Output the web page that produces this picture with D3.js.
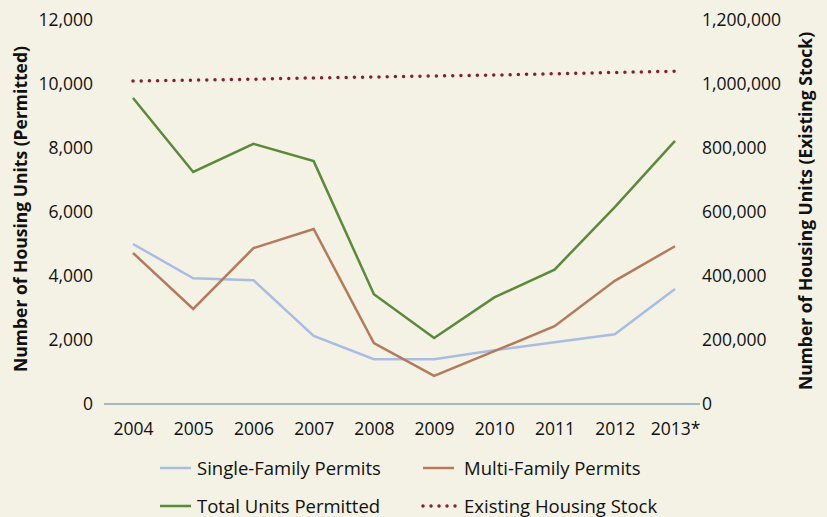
<!DOCTYPE html>
<html><head><meta charset="utf-8">
<script src="https://cdn.jsdelivr.net/npm/d3@7"></script>
<style>body{margin:0;background:#f4f2e4;} svg{display:block;font-family:"Open Sans","Noto Sans",sans-serif;}</style>
</head><body>
<svg id="c" width="827" height="517"></svg>
<script>
const years = ["2004","2005","2006","2007","2008","2009","2010","2011","2012","2013*"];
const singleFamily = [5000,3930,3870,2130,1400,1400,1680,1930,2180,3590];
const multiFamily  = [4720,2970,4870,5470,1900,880,1650,2430,3850,4930];
const totalUnits   = [9560,7250,8130,7590,3430,2060,3330,4200,6150,8220];
const housingStock = [1009000,1012000,1015000,1019000,1022000,1025000,1028000,1032000,1036000,1040000];
const leftTicks = [0,2000,4000,6000,8000,10000,12000];
const rightTicks = [0,200000,400000,600000,800000,1000000,1200000];

const svg = d3.select("#c");
svg.append("rect").attr("width",827).attr("height",517).attr("fill","#f4f2e4");
const x = d3.scalePoint().domain(years).range([133,675]);
const yL = d3.scaleLinear().domain([0,12000]).range([404,20]);
const yR = d3.scaleLinear().domain([0,1200000]).range([404,20]);
const fmt = d3.format(",");
const FS = 17.5;

const gl = svg.append("g").attr("transform","translate(93,0)")
  .call(d3.axisLeft(yL).tickValues(leftTicks).tickFormat(fmt).tickSize(0).tickPadding(0));
gl.select(".domain").remove();
gl.selectAll("text").attr("font-size",FS).attr("fill","#111").attr("font-family","'Open Sans',sans-serif");

const gr = svg.append("g").attr("transform","translate(702,0)")
  .call(d3.axisRight(yR).tickValues(rightTicks).tickFormat(fmt).tickSize(0).tickPadding(0));
gr.select(".domain").remove();
gr.selectAll("text").attr("font-size",FS).attr("fill","#111").attr("font-family","'Open Sans',sans-serif");

svg.append("line").attr("x1",104).attr("x2",700).attr("y1",yL(0)).attr("y2",yL(0))
  .attr("stroke","#8ea3b8").attr("stroke-width",1.5);

const gx = svg.append("g").attr("transform","translate(0,423)")
  .call(d3.axisBottom(x).tickSize(0).tickPadding(0));
gx.select(".domain").remove();
gx.selectAll("text").attr("font-size",FS).attr("fill","#111").attr("dy","0.7em").attr("font-family","'Open Sans',sans-serif");

svg.append("text").attr("transform","translate(27,209) rotate(-90)").attr("text-anchor","middle")
  .attr("font-size",17.5).attr("font-weight","bold").attr("fill","#111").text("Number of Housing Units (Permitted)");
svg.append("text").attr("transform","translate(812,211) rotate(-90)").attr("text-anchor","middle")
  .attr("font-size",17.5).attr("font-weight","bold").attr("fill","#111").text("Number of Housing Units (Existing Stock)");

const lineL = d3.line().x((d,i)=>x(years[i])).y(d=>yL(d));
const lineR = d3.line().x((d,i)=>x(years[i])).y(d=>yR(d));

const cSingle="#a9bde3", cMulti="#b57a5a", cTotal="#5a8a3a", cStock="#8b1a32";
svg.append("path").datum(singleFamily).attr("d",lineL).attr("fill","none").attr("stroke",cSingle).attr("stroke-width",2.5);
svg.append("path").datum(multiFamily).attr("d",lineL).attr("fill","none").attr("stroke",cMulti).attr("stroke-width",2.5);
svg.append("path").datum(totalUnits).attr("d",lineL).attr("fill","none").attr("stroke",cTotal).attr("stroke-width",2.5);
svg.append("path").datum(housingStock).attr("d",lineR).attr("fill","none").attr("stroke",cStock)
  .attr("stroke-width",3.5).attr("stroke-linecap","round").attr("stroke-dasharray","0,8.2");

const legend = [
  {name:"Single-Family Permits", c:cSingle, x:160, tx:197, y:468, dot:false},
  {name:"Multi-Family Permits", c:cMulti, x:423, tx:464, y:468, dot:false},
  {name:"Total Units Permitted", c:cTotal, x:160, tx:197, y:506, dot:false},
  {name:"Existing Housing Stock", c:cStock, x:423, tx:464, y:506, dot:true}
];
legend.forEach(l=>{
  const ln = svg.append("line").attr("x1",l.x).attr("x2",l.x+31).attr("y1",l.y).attr("y2",l.y).attr("stroke",l.c);
  if(l.dot) ln.attr("x1",l.x).attr("x2",l.x+33).attr("stroke-width",3.5).attr("stroke-linecap","round").attr("stroke-dasharray","0,8");
  else ln.attr("stroke-width",2.5);
  svg.append("text").attr("x",l.tx).attr("y",l.y).attr("dy","0.36em").attr("font-size",18.5).attr("fill","#111").text(l.name);
});
</script>
</body></html>
